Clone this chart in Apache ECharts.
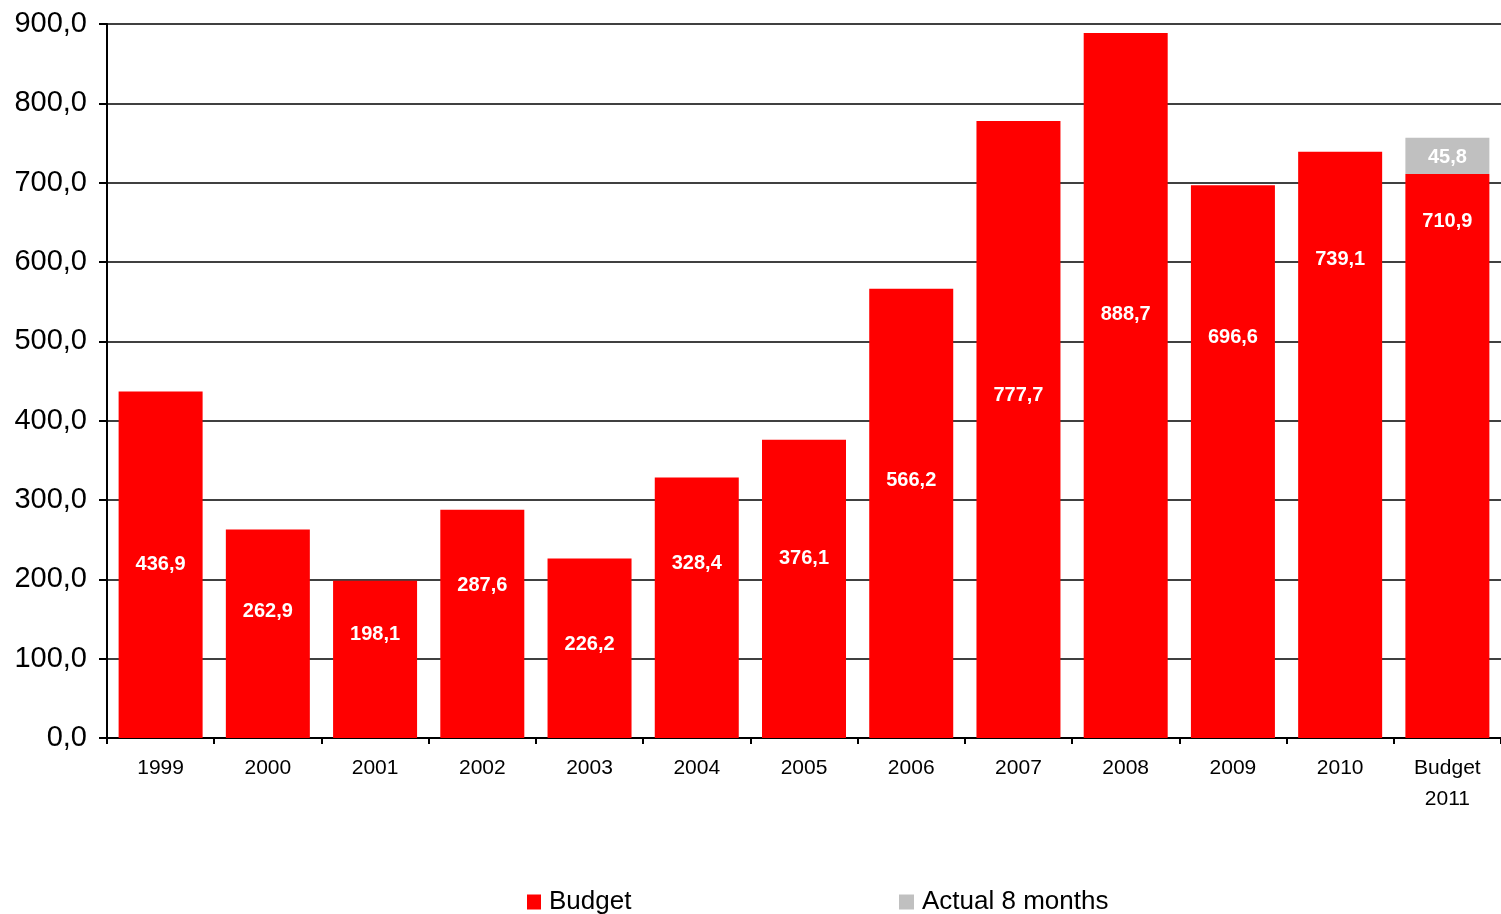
<!DOCTYPE html>
<html>
<head>
<meta charset="utf-8">
<title>Budget</title>
<script src="https://cdn.jsdelivr.net/npm/echarts@6/dist/echarts.min.js"></script>
<style>
  html, body { margin: 0; padding: 0; background: #fff; }
  #chart { width: 1501px; height: 914px; }
</style>
</head>
<body>
<div id="chart"></div>
<script>
// Categories (years) and values
const categories = ['1999', '2000', '2001', '2002', '2003', '2004', '2005', '2006', '2007', '2008', '2009', '2010', 'Budget\n2011'];
const budgetValues = [436.9, 262.9, 198.1, 287.6, 226.2, 328.4, 376.1, 566.2, 777.7, 888.7, 696.6, 739.1, 710.9];
const actualValues = [null, null, null, null, null, null, null, null, null, null, null, null, 45.8];
const yTicks = { min: 0, max: 900, interval: 100 };

// Where each value label sits inside its bar, as a share of the bar height from its top
const labelFromTop = [49.5, 38.6, 32.6, 32.1, 46.5, 32.1, 39.3, 42.3, 44.2, 39.6, 27.1, 18.1, 8.0];

const FONT = '"Liberation Sans", Arial, sans-serif';
const fmt = v => Number(v).toFixed(1).replace('.', ',');

const chart = echarts.init(document.getElementById('chart'), null, { renderer: 'canvas' });

const labelStyle = {
  show: true,
  color: '#fff',
  fontFamily: FONT,
  fontWeight: 'bold',
  fontSize: 20,
  align: 'center',
  verticalAlign: 'middle',
  offset: [0, 2],
  formatter: p => fmt(p.value)
};

const budgetData = budgetValues.map((v, i) => ({
  value: v,
  label: { position: ['50%', labelFromTop[i] + '%'] }
}));

const legendText = { fontFamily: FONT, fontSize: 26, color: '#000', padding: [0, 0, 0, 3] };

chart.setOption({
  animation: false,
  backgroundColor: '#fff',
  grid: { left: 107, right: -2, top: 24, bottom: 176, containLabel: false },
  legend: [
    {
      data: ['Budget'],
      left: 527, top: 889, padding: 0,
      icon: 'rect', itemWidth: 14, itemHeight: 15,
      textStyle: legendText
    },
    {
      data: ['Actual 8 months'],
      left: 899, top: 889, padding: 0,
      icon: 'rect', itemWidth: 15, itemHeight: 15,
      textStyle: legendText
    }
  ],
  xAxis: {
    type: 'category',
    data: categories,
    boundaryGap: true,
    axisLine: { show: true, lineStyle: { color: '#000', width: 2 } },
    axisTick: { show: true, alignWithLabel: false, length: 6, lineStyle: { color: '#000', width: 2 } },
    axisLabel: {
      interval: 0,
      margin: 15,
      color: '#000',
      fontFamily: FONT,
      fontSize: 21,
      lineHeight: 31
    },
    splitLine: { show: false }
  },
  yAxis: {
    type: 'value',
    min: yTicks.min,
    max: yTicks.max,
    interval: yTicks.interval,
    axisLine: { show: true, lineStyle: { color: '#000', width: 2 } },
    axisTick: { show: true, inside: false, length: 8, lineStyle: { color: '#000', width: 2 } },
    axisLabel: {
      margin: 20,
      color: '#000',
      fontFamily: FONT,
      fontSize: 29,
      formatter: v => fmt(v)
    },
    splitLine: { show: true, lineStyle: { color: '#000', width: 1.6 } }
  },
  series: [
    {
      name: 'Budget',
      type: 'bar',
      stack: 'total',
      data: budgetData,
      barWidth: 84,
      itemStyle: { color: '#FF0000' },
      label: labelStyle,
      z: 3
    },
    {
      name: 'Actual 8 months',
      type: 'bar',
      stack: 'total',
      data: actualValues,
      barWidth: 84,
      itemStyle: { color: '#C0C0C0' },
      label: Object.assign({}, labelStyle, { position: 'inside' }),
      z: 3
    }
  ]
});
</script>
</body>
</html>
